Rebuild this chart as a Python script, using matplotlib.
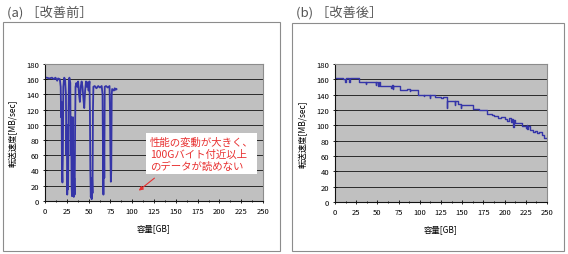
import matplotlib
matplotlib.use("Agg")
import matplotlib.pyplot as plt
from matplotlib.patches import Rectangle

plt.rcParams['font.family'] = ['Noto Sans CJK JP', 'DejaVu Sans']

# ---- data ----
titles = ["(a) ［改善前］", "(b) ［改善後］"]
xlabel = "容量[GB]"
ylabel = "転送速度[MB/sec]"
x_ticks = [0, 25, 50, 75, 100, 125, 150, 175, 200, 225, 250]
y_ticks = [0, 20, 40, 60, 80, 100, 120, 140, 160, 180]

a_x = [0, 2, 5, 8, 10, 12, 14, 15, 17, 18, 18.5, 19, 19.5, 20, 20.5, 21, 22, 23, 24,
       24.5, 25, 25.5, 26, 26.5, 27, 27.5, 28, 29, 29.5, 30, 30.5, 31, 31.5, 32, 32.5,
       33, 33.5, 34, 34.5, 35, 36, 37, 38, 39, 40, 41, 42, 43, 44, 45, 46, 47, 48, 49,
       50, 51, 51.5, 52, 52.5, 53, 53.5, 54, 54.5, 55, 55.5, 57, 59, 61, 63, 65, 66,
       66.5, 67, 67.5, 68, 68.5, 70, 72, 74, 74.5, 75, 75.5, 76, 76.5, 77, 79, 80, 81,
       82]
a_y = [162, 162, 161, 162, 160, 162, 158, 161, 160, 150, 110, 130, 40, 24, 60, 150, 162,
       160, 140, 60, 100, 8, 40, 15, 120, 160, 162, 155, 60, 110, 20, 6, 60, 110, 15, 5,
       30, 8, 90, 150, 155, 150, 157, 140, 130, 150, 157, 150, 135, 122, 145, 157, 150,
       156, 145, 157, 120, 40, 5, 15, 2, 30, 10, 120, 150, 151, 148, 151, 149, 151, 140,
       60, 8, 100, 30, 150, 151, 149, 151, 120, 60, 25, 40, 140, 147, 145, 148, 146, 147]

b_x = [0, 10, 12, 12.5, 17, 17.5, 28, 35, 36, 36.5, 45, 48, 48.5, 51, 51.5, 53, 66, 67,
       68, 68.5, 77, 85, 88, 88.5, 98, 105, 105.5, 112, 112.5, 118, 125, 127, 132, 132.5,
       141, 141.5, 145, 148, 148.5, 150, 151, 163, 170, 179, 185, 188, 192, 196, 200,
       203, 205, 208, 209, 210, 210.5, 212, 220, 225, 226, 227, 228, 230, 233, 236, 238,
       240, 244, 246, 250]
b_y = [162, 161, 157, 162, 157, 162, 157, 156, 154, 157, 156, 153, 157, 151, 157, 151,
       149, 152, 148, 151, 146, 147, 145, 146, 140, 138, 140, 136, 140, 137, 136, 137,
       122, 132, 126, 132, 128, 122, 127, 126, 127, 121, 120, 115, 114, 112, 110, 111,
       108, 106, 109, 104, 108, 98, 107, 103, 99, 97, 100, 95, 99, 94, 91, 93, 90, 91,
       88, 83, 83]

note = "性能の変動が大きく、\n100Gバイト付近以上\nのデータが読めない"

W, H = 568, 255
fig = plt.figure(figsize=(W / 100, H / 100), dpi=100)

def fx(px):
    return px / W

def fy(py):
    return 1 - py / H

# outer frames
for (x0, y0, x1, y1) in [(3, 23, 280, 252), (292, 24, 564, 252)]:
    fig.patches.append(Rectangle((fx(x0), fy(y1)), fx(x1 - x0), (y1 - y0) / H,
                                 transform=fig.transFigure, fill=False,
                                 edgecolor='#8c8c8c', linewidth=0.8))

fig.text(fx(7), fy(13), titles[0], fontsize=9.5, color='#555555', va='center')
fig.text(fx(296), fy(13), titles[1], fontsize=9.5, color='#555555', va='center')

line_col = '#3535a8'

def setup(ax):
    ax.set_facecolor('#c0c0c0')
    ax.set_xlim(0, 250)
    ax.set_ylim(0, 180)
    ax.set_xticks(x_ticks)
    ax.set_xticks([t + 12.5 for t in x_ticks[:-1]], minor=True)
    ax.set_yticks(y_ticks)
    ax.set_xticklabels([str(t) for t in x_ticks], fontsize=5.5)
    ax.set_yticklabels([str(t) for t in y_ticks], fontsize=5.5)
    ax.tick_params(axis='both', which='both', length=2.5, width=0.6, direction='inout', pad=3)
    ax.tick_params(axis='x', which='minor', length=1.8)
    ax.grid(axis='y', color='#2a2a2a', linewidth=0.7)
    ax.set_axisbelow(True)
    for s in ['top', 'right']:
        ax.spines[s].set_color('#8c8c8c')
        ax.spines[s].set_linewidth(0.8)
    for s in ['left', 'bottom']:
        ax.spines[s].set_color('#111111')
        ax.spines[s].set_linewidth(0.8)
    ax.set_xlabel(xlabel, fontsize=6, labelpad=6)
    ax.set_ylabel(ylabel, fontsize=6, labelpad=6)

# panel a
ax1 = fig.add_axes([fx(45), fy(201.7), fx(218), 136.7 / H])
setup(ax1)
ax1.plot(a_x, a_y, color=line_col, linewidth=1.3)
ax1.text(120, 62, note, fontsize=7.5, color='#e83030', va='center', ha='left',
         linespacing=1.2,
         bbox=dict(facecolor='white', edgecolor='none', boxstyle='square,pad=0.35'))
ax1.annotate('', xy=(105, 11), xytext=(128, 32),
             arrowprops=dict(arrowstyle='-|>', color='#e83030', lw=0.8,
                             mutation_scale=6))

# panel b
ax2 = fig.add_axes([fx(335), fy(203), fx(212), 138 / H])
setup(ax2)
ax2.plot(b_x, b_y, color=line_col, linewidth=1.0, drawstyle='steps-post')

fig.savefig('out.png', dpi=100)
